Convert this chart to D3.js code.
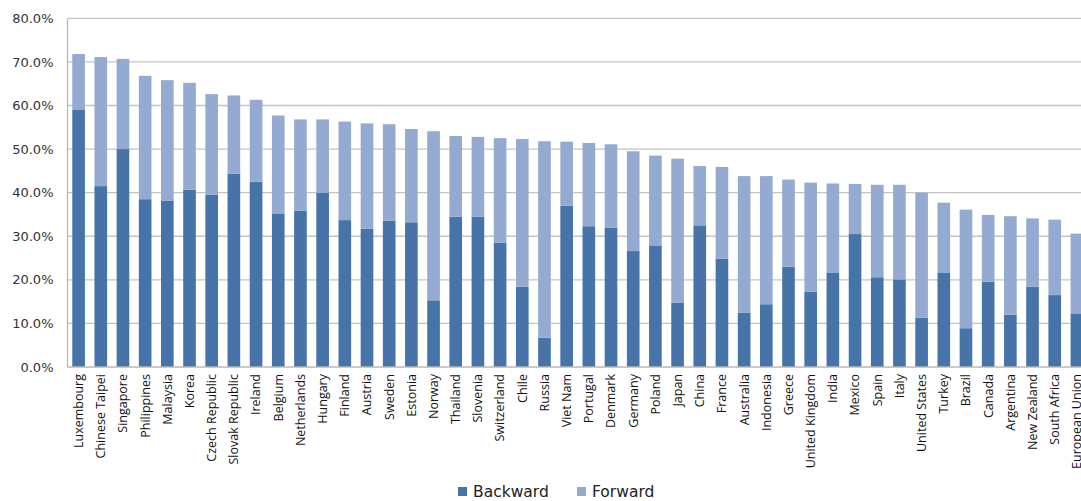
<!DOCTYPE html>
<html><head><meta charset="utf-8">
<script src="https://cdn.jsdelivr.net/npm/d3@7"></script>
<style>body{margin:0;background:#fff}svg{display:block}</style>
</head><body><svg id="c" width="1081" height="501"></svg>
<script>
const categories = ["Luxembourg","Chinese Taipei","Singapore","Philippines","Malaysia","Korea","Czech Republic","Slovak Republic","Ireland","Belgium","Netherlands","Hungary","Finland","Austria","Sweden","Estonia","Norway","Thailand","Slovenia","Switzerland","Chile","Russia","Viet Nam","Portugal","Denmark","Germany","Poland","Japan","China","France","Australia","Indonesia","Greece","United Kingdom","India","Mexico","Spain","Italy","United States","Turkey","Brazil","Canada","Argentina","New Zealand","South Africa","European Union"];
const backward = [59.1,41.5,50.0,38.5,38.1,40.7,39.5,44.4,42.5,35.1,35.9,40.0,33.7,31.7,33.6,33.2,15.3,34.5,34.5,28.5,18.4,6.7,37.0,32.3,32.0,26.6,27.9,14.7,32.5,24.8,12.5,14.4,23.0,17.3,21.7,30.5,20.6,20.1,11.3,21.7,8.9,19.6,12.0,18.4,16.5,12.3];
const total = [71.8,71.1,70.7,66.8,65.8,65.2,62.6,62.3,61.3,57.7,56.8,56.8,56.3,55.9,55.7,54.6,54.1,53.0,52.8,52.5,52.3,51.8,51.7,51.4,51.1,49.5,48.5,47.8,46.1,45.9,43.8,43.8,43.0,42.3,42.1,42.0,41.8,41.8,40.0,37.7,36.1,34.9,34.6,34.1,33.8,30.6];
const forward = total.map((t,i)=>+(t-backward[i]).toFixed(1));
const yTicks = [0,10,20,30,40,50,60,70,80];
const seriesNames = ["Backward","Forward"];
const colors = ["#4674a8","#94aad0"];

const svg = d3.select("#c");
const m = {l:67.5, r:-7, t:18.3, b:134};
const W = 1081, H = 501;
const x = d3.scaleBand().domain(categories).range([m.l, W - m.r]).paddingInner(0.43).paddingOuter(0.215);
const y = d3.scaleLinear().domain([0,80]).range([H - m.b, m.t]);

// gridlines
svg.append("g").selectAll("line").data(yTicks.filter(d=>d>0)).join("line")
  .attr("x1", m.l).attr("x2", W).attr("y1", d=>y(d)).attr("y2", d=>y(d))
  .attr("stroke","#c4c4c4").attr("stroke-width",1.3);

const rows = categories.map((c,i)=>({c, b:backward[i], f:forward[i]}));
const stack = d3.stack().keys(["b","f"])(rows);
svg.append("g").selectAll("g").data(stack).join("g").attr("fill",(d,i)=>colors[i])
  .selectAll("rect").data(d=>d).join("rect")
  .attr("x", d=>x(d.data.c)).attr("width", x.bandwidth())
  .attr("y", d=>y(d[1])).attr("height", d=>y(d[0])-y(d[1]));

// axes lines
svg.append("line").attr("x1",m.l).attr("x2",m.l).attr("y1",y(80)).attr("y2",y(0)).attr("stroke","#b8b8b8").attr("stroke-width",1.3);
svg.append("line").attr("x1",m.l).attr("x2",W).attr("y1",y(0)).attr("y2",y(0)).attr("stroke","#b8b8b8").attr("stroke-width",1.3);

// y axis labels
const yAxis = d3.axisLeft(y).tickValues(yTicks).tickSize(0).tickPadding(14).tickFormat(d=>d.toFixed(1)+"%");
const ga = svg.append("g").attr("transform",`translate(${m.l},0)`).call(yAxis);
ga.select(".domain").remove();
ga.selectAll("text").attr("font-family","DejaVu Sans").attr("font-size",13).attr("fill","#333");

// x axis labels
const xAxis = d3.axisBottom(x).tickSize(0).tickPadding(0);
const gx = svg.append("g").attr("transform",`translate(0,${y(0)})`).call(xAxis);
gx.select(".domain").remove();
gx.selectAll("text")
  .attr("font-family","Open Sans").attr("font-size",12.5).attr("fill","#111")
  .attr("transform","rotate(-90)").attr("text-anchor","end")
  .attr("x",-7).attr("y",0).attr("dy","0.35em");

// legend
const lg = svg.append("g").attr("font-family","DejaVu Sans").attr("font-size",15.5).attr("fill","#222");
const lx = [458, 577];
seriesNames.forEach((s,i)=>{
  lg.append("rect").attr("x",lx[i]).attr("y",487).attr("width",9).attr("height",9).attr("fill",colors[i]);
  lg.append("text").attr("x",lx[i]+15).attr("y",497).text(s);
});
</script></body></html>
